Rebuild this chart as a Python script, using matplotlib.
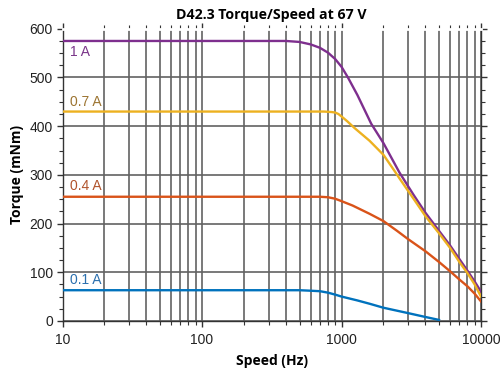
import matplotlib.pyplot as plt
from matplotlib.ticker import MultipleLocator, LogLocator, NullFormatter, FixedLocator

# data
speed_1A = [10, 400, 500, 600, 700, 800, 900, 1000, 1112, 1300, 1633, 2000, 2600, 3300,
            4000, 5000, 6000, 7000, 8000, 9000, 10000]
torque_1A = [575, 575, 573, 568, 561, 551, 538, 522, 500, 464, 405, 365, 305, 258,
             222, 185, 155, 127, 103, 81, 60]

speed_07A = [10, 750, 850, 900, 950, 1000, 1100, 1242, 1589, 2000, 2400, 2600, 3300, 4000,
             5000, 6000, 7000, 8000, 9000, 10000]
torque_07A = [430, 430, 429, 428, 425, 420, 410, 396, 370, 341, 308, 293, 250, 215,
              180, 150, 121, 98, 75, 50]

speed_04A = [10, 700, 800, 900, 1000, 1200, 1589, 2000, 2500, 3000, 4000, 5000, 6000, 7000,
             8000, 9000, 10000]
torque_04A = [255, 255, 254, 251, 246, 237, 220, 205, 185, 168, 143, 121, 102, 85,
              71, 56, 40]

speed_01A = [10, 500, 600, 700, 800, 900, 1000, 1300, 1600, 2000, 3000, 4000, 5000]
torque_01A = [63, 63, 62, 61, 58, 54, 50, 42, 35, 27, 16, 8, 2]

labels = ['1 A', '0.7 A', '0.4 A', '0.1 A']
label_y = [553, 450, 277, 84]

plt.rcParams['font.family'] = ['Liberation Sans', 'DejaVu Sans']

fig = plt.figure(figsize=(5, 3.74), dpi=100)
ax = fig.add_axes([0.125, 0.142, 0.837, 0.781])

series = [
    (speed_1A, torque_1A, '#7e2f8e', '#7a3589'),
    (speed_07A, torque_07A, '#edb120', '#9c7431'),
    (speed_04A, torque_04A, '#d95319', '#b0532c'),
    (speed_01A, torque_01A, '#0072bd', '#2a6fae'),
]
for (x, y, c, tc), lab, ly in zip(series, labels, label_y):
    ax.plot(x, y, color=c, lw=1.7, zorder=3, solid_joinstyle='round')
    ax.text(11.3, ly, lab, color=tc, fontsize=10, va='center', ha='left', zorder=4)

ax.set_xscale('log')
ax.set_xlim(10, 10000)
ax.set_ylim(0, 600)
ax.yaxis.set_major_locator(MultipleLocator(100))
ax.yaxis.set_minor_locator(MultipleLocator(25))
ax.xaxis.set_major_locator(FixedLocator([10, 100, 1000, 10000]))
ax.xaxis.set_minor_locator(LogLocator(base=10, subs=range(2, 10)))
ax.xaxis.set_minor_formatter(NullFormatter())
ax.set_xticklabels(['10', '100', '1000', '10000'])

ax.set_axisbelow(True)
ax.grid(which='major', axis='both', color='#626262', lw=1.2)
ax.grid(which='minor', axis='x', color='#626262', lw=1.2)

for s in ['left', 'bottom', 'right']:
    ax.spines[s].set_color('#333333')
    ax.spines[s].set_linewidth(1.0)
ax.spines['top'].set_color('white')
ax.spines['top'].set_linewidth(2)

ax.tick_params(which='both', direction='out', top=True, right=True, colors='#333333',
               labelsize=10, labelcolor='#222222')
ax.tick_params(which='major', length=4, width=1)
ax.tick_params(which='minor', length=3, width=0.8)
ax.tick_params(axis='x', pad=5)
ax.tick_params(axis='y', pad=3)

ax.set_title('D42.3 Torque/Speed at 67 V', fontsize=10.2, fontweight='bold',
             family='Open Sans', pad=7)
ax.set_xlabel('Speed (Hz)', fontsize=10, fontweight='bold', family='Open Sans', labelpad=5)
ax.set_ylabel('Torque (mNm)', fontsize=10, fontweight='bold', family='Open Sans', labelpad=4)

fig.savefig('out.png', dpi=100)
